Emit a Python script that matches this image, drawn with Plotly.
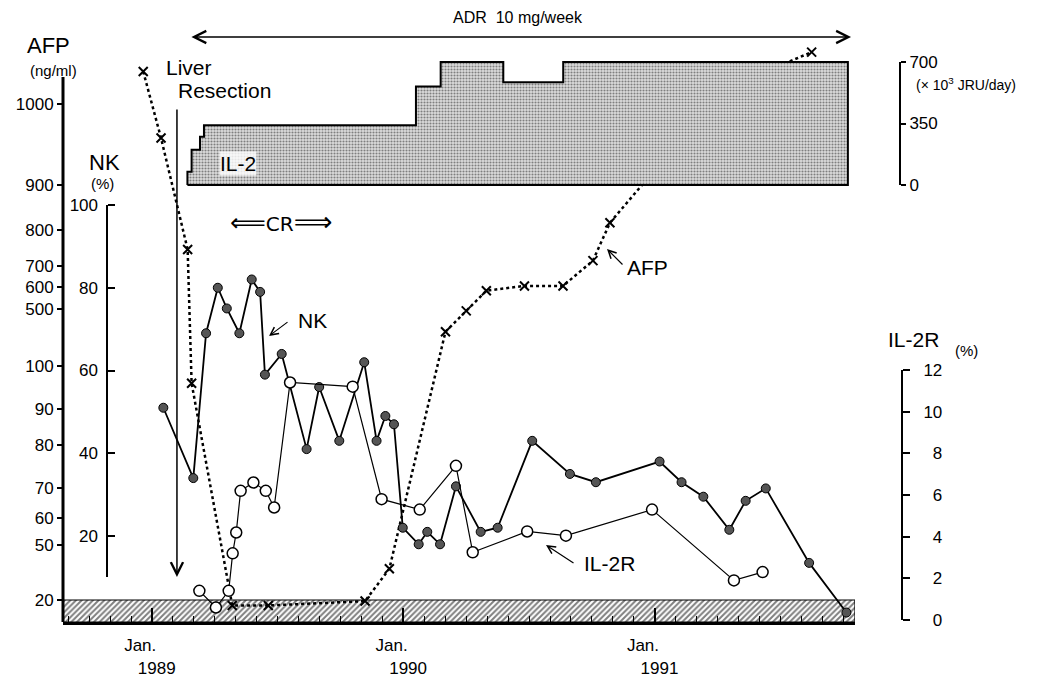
import numpy as np
import plotly.graph_objects as go

# ---------------- data (x = months since Jan 1989) ----------------
NK_MONTH = [0.54, 1.97, 2.58, 3.14, 3.57, 4.17, 4.76, 5.16, 5.39, 6.19, 7.38, 7.98,
            8.94, 10.13, 10.72, 11.14, 11.55, 11.97, 12.73, 13.14, 13.75, 14.51,
            15.69, 16.50, 18.15, 19.95, 21.19, 24.23, 25.28, 26.32, 27.56, 28.34,
            29.30, 31.37, 33.15]
NK_PCT = [51, 34, 69, 80, 75, 69, 82, 79, 59, 64, 41, 56, 43, 62, 43, 49, 47, 22,
          18, 21, 18, 32, 21, 22, 43, 35, 33, 38, 33, 29.5, 21.5, 28.5, 31.5, 13.5, 1.5]

IL2R_MONTH = [2.26, 3.05, 3.66, 3.85, 4.02, 4.23, 4.84, 5.43, 5.83, 6.59, 9.58,
              10.96, 12.78, 14.51, 15.31, 17.91, 19.76, 23.87, 27.78, 29.15]
IL2R_PCT = [1.4, 0.6, 1.4, 3.2, 4.2, 6.2, 6.6, 6.2, 5.4, 11.4, 11.2, 5.8, 5.3,
            7.4, 3.25, 4.25, 4.05, 5.3, 1.9, 2.3]

AFP_MONTH = [-0.42, 0.43, 1.70, 1.89, 3.83, 5.55, 10.17, 11.33, 14.01, 15.00,
             15.96, 17.78, 19.62, 21.05, 21.86, 25.92, 27.72, 31.49]
AFP_NGML = [1040, 958, 746, 96, 15, 15, 19, 37, 341, 487, 583, 605, 605, 715,
            816, 977, 1023, 1064]

IL2_START_MONTH = [1.69, 1.89, 2.29, 2.48, 12.60, 13.78, 16.77, 19.63]
IL2_DOSE = [75, 200, 275, 340, 560, 700, 585, 700]   # x10^3 JRU/day
IL2_END_MONTH = 33.22

LIVER_RESECTION_MONTH = 1.19
ADR_PERIOD = [1.81, 33.37]

# tick labels
X_TICK_MONTHS = [0, 12, 24]
X_TICK_YEARS = ["1989", "1990", "1991"]
AFP_TICKS = [20, 50, 60, 70, 80, 90, 100, 500, 600, 700, 800, 900, 1000]
NK_TICKS = [20, 40, 60, 80, 100]
IL2R_TICKS = [0, 2, 4, 6, 8, 10, 12]
IL2_TICKS = [0, 350, 700]

# broken (hand-drawn) AFP scale: value -> position on a 0..100 axis
AFP_SCALE_VALS = [0, 20, 50, 60, 70, 80, 90, 100, 500, 600, 700, 800, 900, 1000, 1100]
AFP_SCALE_POS = [0, 4.04, 14.13, 19.08, 24.59, 32.48, 39.08, 46.97, 57.43, 61.47,
                 65.32, 71.93, 80.18, 95.05, 109.92]


def afp_pos(v):
    return np.interp(v, AFP_SCALE_VALS, AFP_SCALE_POS)


# ---------------- geometry ----------------
OFF = 8                      # page body margin
W, H = 1045 - OFF, 682 - OFF
FONT = "Liberation Sans, Arial, sans-serif"
X_RANGE = [-4.25, 33.56]


def fx(p):
    return (p - OFF) / W


def fy(p):
    return 1 - (p - OFF) / H


fig = go.Figure()

# hatched AFP normal-range band (< 20 ng/ml)
band_top = float(afp_pos(20))
fig.add_trace(go.Scatter(
    x=[X_RANGE[0], X_RANGE[1], X_RANGE[1], X_RANGE[0], X_RANGE[0]],
    y=[0, 0, band_top, band_top, 0],
    mode="lines", fill="toself",
    fillpattern=dict(shape="/", size=4, solidity=0.5, fgcolor="black", bgcolor="white"),
    fillcolor="white",
    line=dict(color="black", width=1.2), hoverinfo="skip", yaxis="y"))

# IL-2 dose step area
xs = [IL2_START_MONTH[0]]
ys = [0]
for s, d in zip(IL2_START_MONTH, IL2_DOSE):
    xs.append(s)
    ys.append(d)
xs += [IL2_END_MONTH, IL2_END_MONTH, IL2_START_MONTH[0]]
ys += [IL2_DOSE[-1], 0, 0]
fig.add_trace(go.Scatter(
    x=xs, y=ys, mode="lines", line=dict(color="black", width=2, shape="hv"),
    fill="toself", fillcolor="#b8b8b8",
    fillpattern=dict(shape=".", size=3, solidity=0.4, fgcolor="#222222", bgcolor="#dcdcdc"),
    hoverinfo="skip", yaxis="y4"))

# AFP
fig.add_trace(go.Scatter(
    x=AFP_MONTH, y=[float(afp_pos(v)) for v in AFP_NGML], mode="lines+markers",
    line=dict(color="black", width=2.5, dash="dot"),
    marker=dict(symbol="x-thin", size=9, line=dict(color="black", width=2)),
    yaxis="y", cliponaxis=False))

# IL-2R
fig.add_trace(go.Scatter(
    x=IL2R_MONTH, y=IL2R_PCT, mode="lines+markers",
    line=dict(color="black", width=1.2),
    marker=dict(symbol="circle", size=11, color="white", line=dict(color="black", width=1.5)),
    yaxis="y3", cliponaxis=False))

# NK
fig.add_trace(go.Scatter(
    x=NK_MONTH, y=NK_PCT, mode="lines+markers",
    line=dict(color="black", width=1.8),
    marker=dict(symbol="circle", size=9, color="#555555", line=dict(color="black", width=1)),
    yaxis="y2", cliponaxis=False))

ydom = [fy(622), 1]
common_y = dict(domain=ydom, showgrid=False, zeroline=False, showline=False,
                automargin=False, tickcolor="black", tickfont=dict(size=17, family=FONT))

fig.update_layout(
    width=W, height=H, margin=dict(l=0, r=0, t=0, b=0),
    paper_bgcolor="white", plot_bgcolor="rgba(0,0,0,0)", showlegend=False,
    font=dict(family=FONT, color="black", size=16),
    xaxis=dict(domain=[fx(63), fx(855)], range=X_RANGE, anchor="y",
               showline=True, linecolor="black", linewidth=3,
               showgrid=False, zeroline=False, automargin=False,
               tickmode="array", tickvals=X_TICK_MONTHS,
               ticktext=["Jan.&nbsp;&nbsp;&nbsp;&nbsp;&nbsp;<br>&nbsp;&nbsp;" + y for y in X_TICK_YEARS],
               ticks="inside", ticklen=14, tickwidth=2, tickcolor="black",
               tickfont=dict(size=17, family=FONT), ticklabelstandoff=6,
               minor=dict(tickmode="linear", tick0=0, dtick=1, ticks="inside",
                          ticklen=6, tickwidth=1, tickcolor="black", showgrid=False)),
    # ranges: value at pixel 622 (bottom) .. value at pixel 8 (top)
    yaxis=dict(range=[0, (622 - OFF) / 5.45], anchor="x", side="left",
               tickmode="array", tickvals=[float(afp_pos(v)) for v in AFP_TICKS],
               ticktext=[str(v) for v in AFP_TICKS],
               ticks="outside", ticklen=5, tickwidth=2, **common_y),
    yaxis2=dict(range=[(618.75 - 622) / 4.1375, (618.75 - OFF) / 4.1375], overlaying="y",
                anchor="free", position=fx(107), side="left", tickmode="array",
                tickvals=NK_TICKS, ticks="inside", ticklen=7, tickwidth=2,
                ticklabelstandoff=9, **common_y),
    yaxis3=dict(range=[(620 - 622) / 20.833, (620 - OFF) / 20.833], overlaying="y",
                anchor="free", position=fx(902), side="right", tickmode="array",
                tickvals=IL2R_TICKS,
                ticktext=[("&nbsp;&nbsp;" + str(v)) if v < 10 else str(v) for v in IL2R_TICKS],
                ticks="outside", ticklen=7, tickwidth=2, ticklabelstandoff=10, **common_y),
    yaxis4=dict(range=[(185 - 622) / 0.175714, (185 - OFF) / 0.175714], overlaying="y",
                anchor="free", position=fx(900), side="right", tickmode="array",
                tickvals=IL2_TICKS, ticks="outside", ticklen=5, tickwidth=2, **common_y),
)

# axis lines
fig.add_shape(type="line", xref="paper", x0=fx(63), x1=fx(63), yref="y", y0=0, y1=100,
              line=dict(color="black", width=3))
fig.add_shape(type="line", xref="paper", x0=fx(107), x1=fx(107), yref="y2", y0=10.1, y1=100,
              line=dict(color="black", width=2))
fig.add_shape(type="line", xref="paper", x0=fx(902), x1=fx(902), yref="y3", y0=0, y1=12,
              line=dict(color="black", width=2))
fig.add_shape(type="line", xref="paper", x0=fx(900), x1=fx(900), yref="y4", y0=0, y1=700,
              line=dict(color="black", width=2))


def label(text, x, y, size=16, xanchor="center", family=FONT, **kw):
    fig.add_annotation(text=text, x=fx(x), y=fy(y), xref="paper", yref="paper",
                       showarrow=False, xanchor=xanchor, yanchor="middle",
                       font=dict(size=size, family=family, color="black"), **kw)


# axis titles
label("AFP", 48, 46, size=22)
label("(ng/ml)", 53, 71, size=15)
label("NK", 104, 162, size=22)
label("(%)", 102, 183, size=15)
label("IL-2R", 914, 339, size=21)
label("(%)", 966, 350, size=15)
label("(× 10<sup>3</sup> JRU/day)", 914, 84, size=14, xanchor="left")

# in-plot labels
label("ADR&nbsp;&nbsp;10 mg/week", 518, 18, size=16)
label("Liver", 164, 68, size=21, xanchor="left")
label("Resection", 176, 91, size=21, xanchor="left")
label("IL-2", 219, 163, size=21, xanchor="left", bgcolor="rgba(255,255,255,0.8)", borderpad=0)
label("NK", 296, 320, size=21, xanchor="left")
label("AFP", 625, 267, size=21, xanchor="left")
label("IL-2R", 582, 563, size=21, xanchor="left")
label('<span style="font-size:25px">⟸</span>CR<span style="font-size:27px">⟹</span>',
      228, 222, size=20, xanchor="left", family="DejaVu Sans")

# ADR double arrow
fig.add_annotation(x=ADR_PERIOD[1], y=fy(37), xref="x", yref="paper",
                   ax=ADR_PERIOD[0], ay=0, axref="x", ayref="pixel",
                   text="", showarrow=True, arrowside="end+start", arrowhead=5,
                   startarrowhead=5, arrowsize=1.6, startarrowsize=1.6,
                   arrowwidth=1.5, arrowcolor="black")

# Liver resection arrow
fig.add_annotation(x=LIVER_RESECTION_MONTH, y=fy(577), xref="x", yref="paper",
                   ax=0, ay=-469, text="", showarrow=True, arrowhead=5,
                   arrowsize=1.6, arrowwidth=1.5, arrowcolor="black")

# pointer arrows
for tip, tail in [((269, 336), (289, 321)), ((607, 249), (624, 266)), ((546, 545), (575, 564))]:
    fig.add_annotation(x=fx(tip[0]), y=fy(tip[1]), xref="paper", yref="paper",
                       ax=tail[0] - tip[0], ay=tail[1] - tip[1], text="", showarrow=True,
                       arrowhead=5, arrowsize=1.3, arrowwidth=1.2, arrowcolor="black")

fig.write_html("out.html")
